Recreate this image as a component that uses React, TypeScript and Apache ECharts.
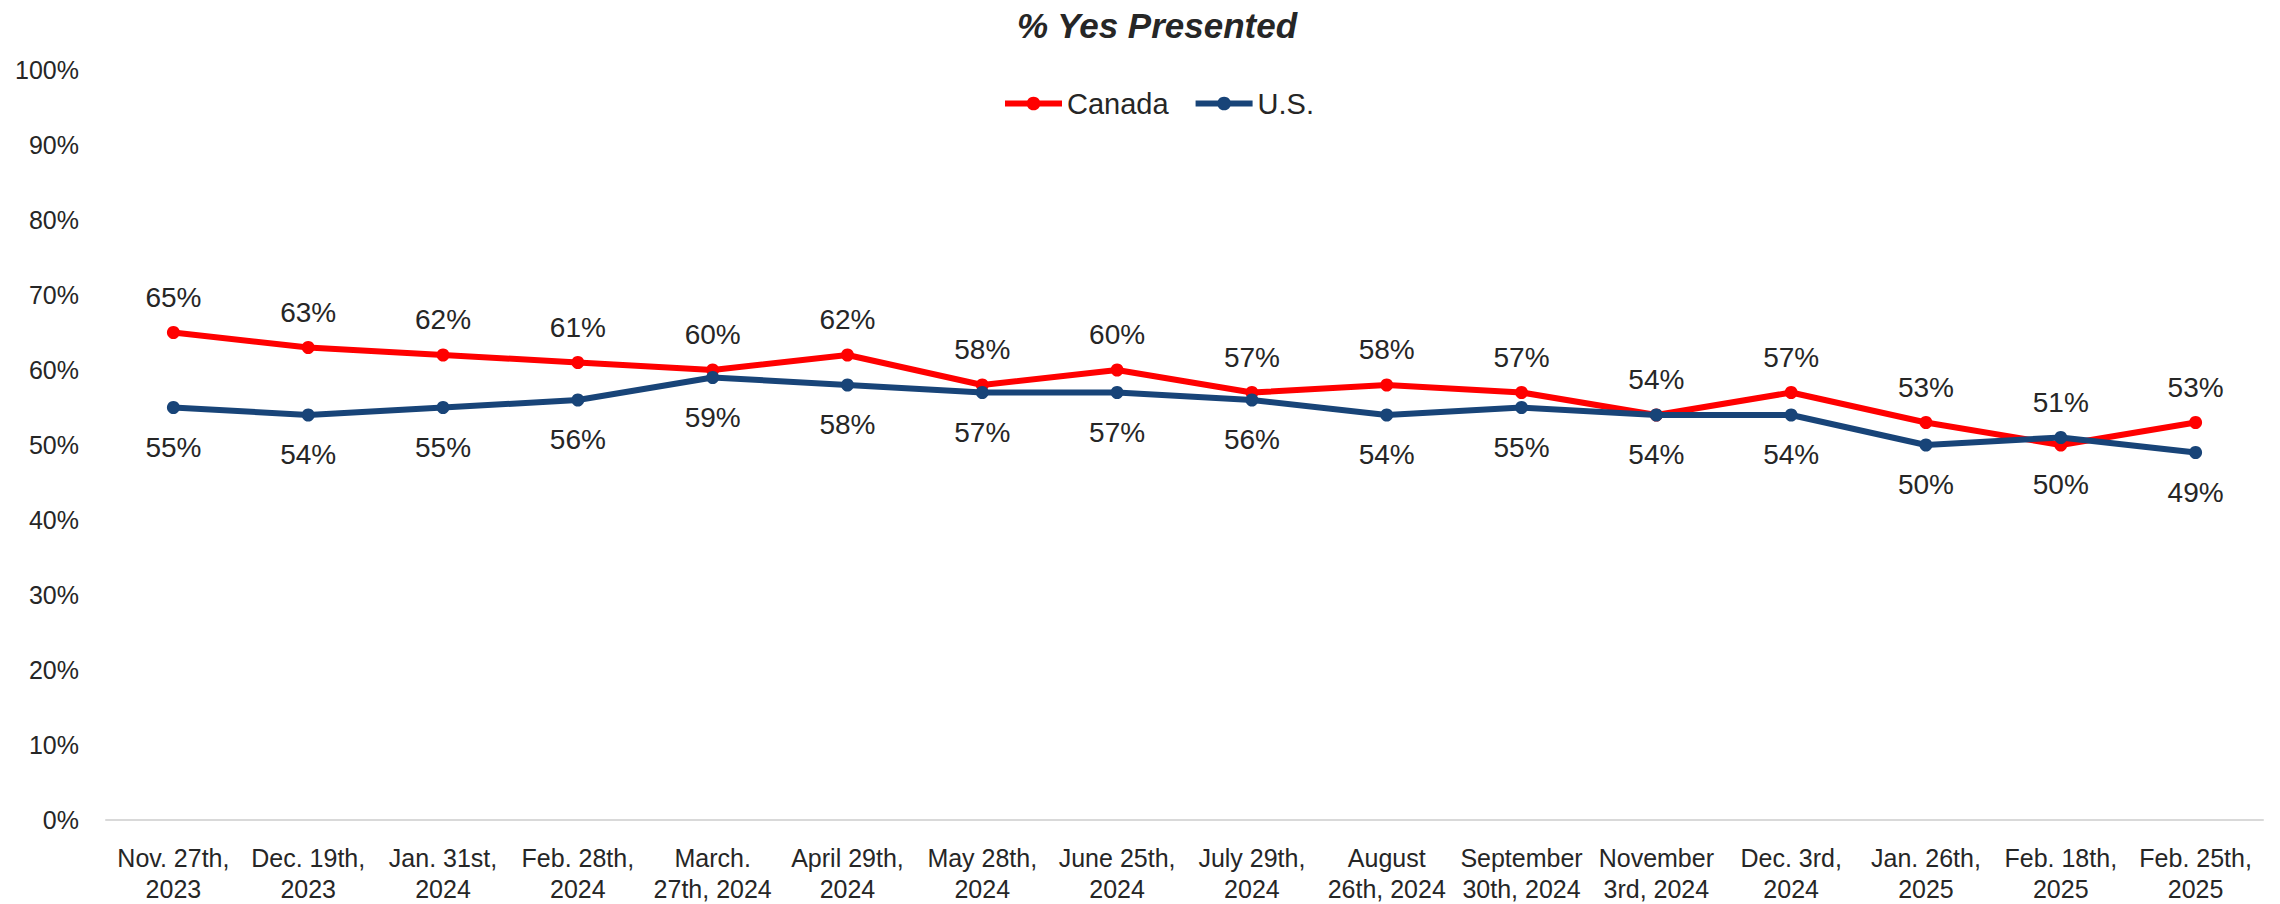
import React, { useEffect, useRef } from "react";
import * as echarts from "echarts";

const categories = [
  "Nov. 27th,\n2023",
  "Dec. 19th,\n2023",
  "Jan. 31st,\n2024",
  "Feb. 28th,\n2024",
  "March.\n27th, 2024",
  "April 29th,\n2024",
  "May 28th,\n2024",
  "June 25th,\n2024",
  "July 29th,\n2024",
  "August\n26th, 2024",
  "September\n30th, 2024",
  "November\n3rd, 2024",
  "Dec. 3rd,\n2024",
  "Jan. 26th,\n2025",
  "Feb. 18th,\n2025",
  "Feb. 25th,\n2025",
];

const canada = [65, 63, 62, 61, 60, 62, 58, 60, 57, 58, 57, 54, 57, 53, 50, 53];
const us = [55, 54, 55, 56, 59, 58, 57, 57, 56, 54, 55, 54, 54, 50, 51, 49];

// label placement per point: "top" or "bottom"
const canadaLabelPos = ["top", "top", "top", "top", "top", "top", "top", "top", "top", "top", "top", "top", "top", "top", "bottom", "top"];
const usLabelPos = ["bottom", "bottom", "bottom", "bottom", "bottom", "bottom", "bottom", "bottom", "bottom", "bottom", "bottom", "bottom", "bottom", "bottom", "top", "bottom"];

const RED = "#FF0000";
const BLUE = "#184478";
const TEXT = "#262626";
const FONT = "Liberation Sans, Arial, sans-serif";

function buildData(values: number[], pos: string[]) {
  return values.map((v, i) => ({
    value: v,
    label: {
      position: pos[i],
      distance: pos[i] === "top" ? 15 : 19,
    },
  }));
}

export default function App() {
  const ref = useRef<HTMLDivElement>(null);
  useEffect(() => {
    document.body.style.margin = "0";
    const chart = echarts.init(ref.current!, undefined, { renderer: "svg" });
    const labelStyle = {
      show: true,
      formatter: "{c}%",
      fontSize: 28,
      fontFamily: FONT,
      color: TEXT,
    };
    chart.setOption({
      animation: false,
      backgroundColor: "#FFFFFF",
      title: {
        text: "% Yes Presented",
        left: 1152,
        textAlign: "center",
        top: 3,
        textStyle: {
          fontSize: 35,
          fontWeight: "bold",
          fontStyle: "italic",
          fontFamily: FONT,
          color: TEXT,
        },
      },
      legend: {
        left: 997,
        top: 84,
        itemWidth: 57,
        itemHeight: 17,
        itemGap: 24,
        lineStyle: { width: 6 },
        textStyle: {
          fontSize: 29,
          fontFamily: FONT,
          color: TEXT,
        },
        data: ["Canada", "U.S."],
      },
      grid: {
        left: 106,
        right: 17,
        top: 70,
        bottom: 81,
        containLabel: false,
      },
      xAxis: {
        type: "category",
        data: categories,
        boundaryGap: true,
        axisLine: { show: true, lineStyle: { color: "#D9D9D9", width: 2 } },
        axisTick: { show: false },
        axisLabel: {
          interval: 0,
          margin: 22,
          fontSize: 25,
          lineHeight: 31,
          fontFamily: FONT,
          color: TEXT,
        },
      },
      yAxis: {
        type: "value",
        min: 0,
        max: 100,
        interval: 10,
        axisLine: { show: false },
        axisTick: { show: false },
        splitLine: { show: false },
        axisLabel: {
          formatter: "{value}%",
          margin: 27,
          fontSize: 25,
          fontFamily: FONT,
          color: TEXT,
        },
      },
      series: [
        {
          name: "Canada",
          type: "line",
          data: buildData(canada, canadaLabelPos),
          symbol: "circle",
          symbolSize: 13,
          lineStyle: { color: RED, width: 6 },
          itemStyle: { color: RED },
          label: labelStyle,
          z: 3,
        },
        {
          name: "U.S.",
          type: "line",
          data: buildData(us, usLabelPos),
          symbol: "circle",
          symbolSize: 13,
          lineStyle: { color: BLUE, width: 6 },
          itemStyle: { color: BLUE },
          label: labelStyle,
          z: 4,
        },
      ],
    });
    return () => chart.dispose();
  }, []);
  return (
    <div
      ref={ref}
      style={{ position: "fixed", left: 0, top: 0, width: 2280, height: 904 }}
    />
  );
}
